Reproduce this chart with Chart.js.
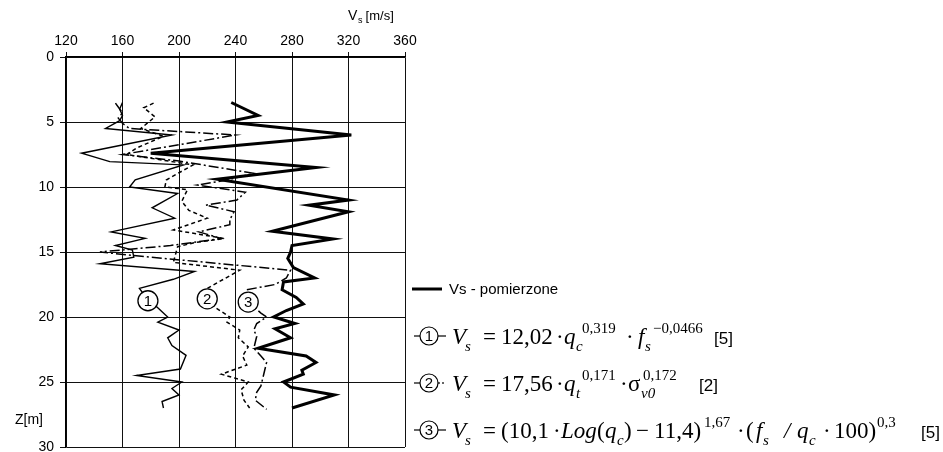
<!DOCTYPE html>
<html>
<head>
<meta charset="utf-8">
<script src="https://cdn.jsdelivr.net/npm/chart.js@4/dist/chart.umd.min.js"></script>
<style>
  body { margin: 0; background: #fff; }
  canvas { display: block; }
</style>
</head>
<body>
<canvas id="vsChart" width="943" height="452"></canvas>
<script>
// depth Z [m] and Vs [m/s] read from the profile
const measuredDepth = [3.5, 4.5, 5.0, 6.0, 7.4, 8.5, 9.4, 11.0, 11.4, 11.9, 13.4, 14.0, 14.5, 15.0, 15.5, 16.2, 17.0, 17.3, 17.9, 18.5, 19.0, 19.5, 20.0, 20.5, 20.9, 21.6, 22.4, 23.0, 23.5, 24.1, 24.4, 25.0, 25.4, 26.0, 27.0];
const measuredVs = [237, 256, 234, 322, 180, 297, 227, 320, 292, 320, 266, 309, 280, 279, 277, 281, 296, 274, 273, 283, 288, 276, 267, 282, 268, 279, 256, 290, 297, 287, 288, 274, 279, 310, 280];

const eq1Depth = [3.5, 4.0, 4.5, 4.9, 5.5, 6.0, 7.4, 8.05, 8.3, 9.45, 10.0, 10.5, 11.6, 12.4, 13.45, 13.95, 14.5, 14.85, 15.4, 15.9, 16.5, 17.1, 17.8, 18.4, 19.2, 19.6, 20.0, 20.4, 21.0, 21.6, 22.2, 22.95, 24.0, 24.5, 25.0, 25.5, 26.0, 26.5, 27.0];
const eq1Vs = [160, 158, 160, 158, 148, 195, 131, 151, 203, 169, 165, 199, 181, 197, 152, 176, 155, 167, 168, 144, 211, 196, 172, 176, 184, 188, 192, 185, 200, 192, 195, 205, 201, 170, 202, 195, 200, 188, 189];

const eq2Depth = [3.55, 3.9, 4.6, 5.5, 6.1, 7.0, 7.5, 8.3, 8.6, 9.46, 10.0, 10.2, 11.1, 11.8, 12.4, 13.3, 13.96, 14.3, 14.6, 15.0, 15.8, 16.4, 17.8, 18.6, 19.3, 20.0, 20.4, 21.0, 21.6, 22.3, 23.0, 23.7, 24.4, 25.0, 25.6, 26.4, 27.0];
const eq2Vs = [182, 175, 183, 173, 189, 170, 163, 210, 205, 191, 190, 206, 202, 207, 220, 196, 232, 210, 199, 198, 196, 243, 220, 220, 226, 236, 234, 243, 242, 249, 245, 248, 230, 249, 244, 246, 250];

const eq3Depth = [3.55, 4.0, 4.3, 4.7, 5.1, 5.5, 6.0, 7.5, 8.0, 8.95, 9.46, 9.85, 10.4, 11.0, 11.4, 11.9, 12.5, 12.9, 13.45, 13.96, 14.5, 15.0, 15.4, 16.4, 17.0, 17.5, 17.9, 18.85, 19.7, 20.0, 20.5, 21.0, 21.5, 22.4, 23.0, 23.5, 24.4, 25.3, 25.8, 26.4, 27.1];
const eq3Vs = [155, 158, 160, 157, 160, 165, 240, 160, 200, 253, 234, 213, 247, 241, 219, 239, 236, 236, 214, 230, 194, 144, 180, 279, 276, 268, 248, 249, 258, 262, 255, 253, 255, 253, 258, 262, 260, 258, 255, 254, 262];

const markerText = ["1", "2", "3"];
const markerVs = [178, 220, 249];
const markerDepth = [18.75, 18.6, 18.85];

const vsTicks = [120, 160, 200, 240, 280, 320, 360];
const depthTicks = [0, 5, 10, 15, 20, 25, 30];

const SANS = "'Liberation Sans', Arial, sans-serif";
const SERIF = "'Liberation Serif', 'Times New Roman', serif";

function toPoints(depth, vs) {
  return depth.map((z, i) => ({ x: vs[i], y: z }));
}

// circled curve numbers on the plot
const markerPlugin = {
  id: "markers",
  afterDatasetsDraw(chart) {
    const { ctx, scales } = chart;
    ctx.save();
    markerText.forEach((t, i) => {
      const x = scales.x.getPixelForValue(markerVs[i]);
      const y = scales.y.getPixelForValue(markerDepth[i]);
      ctx.beginPath();
      ctx.arc(x, y, 10, 0, Math.PI * 2);
      ctx.fillStyle = "#fff";
      ctx.fill();
      ctx.lineWidth = 1.3;
      ctx.strokeStyle = "#000";
      ctx.stroke();
      ctx.fillStyle = "#000";
      ctx.font = "15px " + SANS;
      ctx.textAlign = "center";
      ctx.textBaseline = "middle";
      ctx.fillText(t, x, y + 1);
    });
    ctx.restore();
  }
};

// each piece has its own x; k: n normal, i italic, sub / sup small (italic with "i")
function drawRuns(ctx, y, runs) {
  runs.forEach(r => {
    let size = 23, dy = 0, style = "";
    if (r.k.includes("i")) style = "italic ";
    if (r.k.startsWith("sub")) { size = 15; dy = 7; }
    if (r.k === "sup") { size = 15; dy = -11; }
    let family = SERIF;
    if (r.k === "ref") { family = SANS; size = 17; }
    ctx.font = style + size + "px " + family;
    ctx.fillText(r.t, r.x, y + dy);
  });
}

function circledMark(ctx, cx, cy, num, tail) {
  ctx.lineWidth = 1.2;
  ctx.strokeStyle = "#000";
  ctx.beginPath();
  ctx.moveTo(cx - 15, cy);
  ctx.lineTo(cx - 9, cy);
  ctx.stroke();
  ctx.beginPath();
  ctx.arc(cx, cy, 9, 0, Math.PI * 2);
  ctx.stroke();
  ctx.beginPath();
  if (tail === "dots") ctx.setLineDash([2, 2]);
  ctx.moveTo(cx + 9, cy);
  ctx.lineTo(cx + 17, cy);
  ctx.stroke();
  ctx.setLineDash([]);
  ctx.fillStyle = "#000";
  ctx.font = "15px " + SANS;
  ctx.textAlign = "center";
  ctx.textBaseline = "middle";
  ctx.fillText(num, cx, cy + 1);
}

const legendPlugin = {
  id: "textLegend",
  afterDraw(chart) {
    const ctx = chart.ctx;
    ctx.save();
    ctx.fillStyle = "#000";

    // axis titles
    ctx.textAlign = "left";
    ctx.textBaseline = "alphabetic";
    ctx.font = "14px " + SANS;
    ctx.fillText("V", 348, 20);
    ctx.font = "9px " + SANS;
    ctx.fillText("s", 358, 23);
    ctx.font = "13px " + SANS;
    ctx.fillText(" [m/s]", 362, 20);
    ctx.font = "14px " + SANS;
    ctx.fillText("Z[m]", 15, 424);

    // measured line
    ctx.lineWidth = 3;
    ctx.strokeStyle = "#000";
    ctx.beginPath();
    ctx.moveTo(412, 289);
    ctx.lineTo(442, 289);
    ctx.stroke();
    ctx.font = "15px " + SANS;
    ctx.textBaseline = "middle";
    ctx.fillText("Vs - pomierzone", 449, 290);

    circledMark(ctx, 429, 336, "1", "line");
    circledMark(ctx, 429, 383, "2", "dots");
    circledMark(ctx, 429, 430, "3", "line");

    ctx.textAlign = "left";
    ctx.textBaseline = "alphabetic";
    drawRuns(ctx, 344, [
      { t: "V", k: "i", x: 452 }, { t: "s", k: "subi", x: 465 }, { t: "=", k: "n", x: 483 },
      { t: "12,02", k: "n", x: 501 }, { t: "·", k: "n", x: 556 }, { t: "q", k: "i", x: 564 },
      { t: "c", k: "subi", x: 576 }, { t: "0,319", k: "sup", x: 582 }, { t: "·", k: "n", x: 626 },
      { t: "f", k: "i", x: 638 }, { t: "s", k: "subi", x: 645 }, { t: "\u22120,0466", k: "sup", x: 653 },
      { t: "[5]", k: "ref", x: 714 }
    ]);
    drawRuns(ctx, 391, [
      { t: "V", k: "i", x: 452 }, { t: "s", k: "subi", x: 465 }, { t: "=", k: "n", x: 483 },
      { t: "17,56", k: "n", x: 501 }, { t: "·", k: "n", x: 556 }, { t: "q", k: "i", x: 564 },
      { t: "t", k: "subi", x: 576 }, { t: "0,171", k: "sup", x: 582 }, { t: "·", k: "n", x: 620 },
      { t: "σ", k: "n", x: 628 }, { t: "v0", k: "subi", x: 641 }, { t: "0,172", k: "sup", x: 643 },
      { t: "[2]", k: "ref", x: 699 }
    ]);
    drawRuns(ctx, 438, [
      { t: "V", k: "i", x: 452 }, { t: "s", k: "subi", x: 465 }, { t: "=", k: "n", x: 483 },
      { t: "(10,1", k: "n", x: 501 }, { t: "·", k: "n", x: 553 }, { t: "Log", k: "i", x: 561 },
      { t: "(", k: "n", x: 597 }, { t: "q", k: "i", x: 605 }, { t: "c", k: "subi", x: 617 },
      { t: ")", k: "n", x: 624 }, { t: "\u2212", k: "n", x: 636 }, { t: "11,4)", k: "n", x: 654 },
      { t: "1,67", k: "sup", x: 704 },
      { t: "·", k: "n", x: 737 }, { t: "(", k: "n", x: 746 }, { t: "f", k: "i", x: 756 },
      { t: "s", k: "subi", x: 763 }, { t: "/", k: "i", x: 784 }, { t: "q", k: "i", x: 797 },
      { t: "c", k: "subi", x: 809 }, { t: "·", k: "n", x: 823 }, { t: "100)", k: "n", x: 834 },
      { t: "0,3", k: "sup", x: 877 }, { t: "[5]", k: "ref", x: 921 }
    ]);
    ctx.restore();
  }
};

const canvas = document.getElementById("vsChart");

new Chart(canvas, {
  type: "scatter",
  data: {
    datasets: [
      {
        label: "Vs - pomierzone",
        data: toPoints(measuredDepth, measuredVs),
        showLine: true,
        borderColor: "#000",
        borderWidth: 3,
        pointRadius: 0,
        order: 0
      },
      {
        label: "1",
        data: toPoints(eq1Depth, eq1Vs),
        showLine: true,
        borderColor: "#000",
        borderWidth: 1.4,
        pointRadius: 0
      },
      {
        label: "2",
        data: toPoints(eq2Depth, eq2Vs),
        showLine: true,
        borderColor: "#000",
        borderWidth: 1.5,
        borderDash: [4, 3],
        pointRadius: 0
      },
      {
        label: "3",
        data: toPoints(eq3Depth, eq3Vs),
        showLine: true,
        borderColor: "#000",
        borderWidth: 1.5,
        borderDash: [10, 3, 2, 3],
        pointRadius: 0
      }
    ]
  },
  options: {
    responsive: false,
    animation: false,
    layout: { padding: { left: 0, top: 0, right: 538, bottom: 5 } },
    plugins: {
      legend: { display: false },
      tooltip: { enabled: false }
    },
    scales: {
      x: {
        type: "linear",
        position: "top",
        min: vsTicks[0],
        max: vsTicks[vsTicks.length - 1],
        afterBuildTicks: s => { s.ticks = vsTicks.map(v => ({ value: v })); },
        afterFit: s => { s.height = 57; s.paddingLeft = 0; s.paddingRight = 0; },
        ticks: { color: "#000", font: { family: SANS, size: 14 }, padding: 2, maxRotation: 0 },
        grid: { color: "#111", lineWidth: 1, tickLength: 5 },
        border: { color: "#000", width: 1.5 }
      },
      y: {
        type: "linear",
        reverse: true,
        min: depthTicks[0],
        max: depthTicks[depthTicks.length - 1],
        afterBuildTicks: s => { s.ticks = depthTicks.map(v => ({ value: v })); },
        afterFit: s => { s.width = 66; s.paddingTop = 0; s.paddingBottom = 0; },
        ticks: { color: "#000", font: { family: SANS, size: 14 }, padding: 6 },
        grid: { color: "#111", lineWidth: 1, tickLength: 6 },
        border: { color: "#000", width: 1.5 }
      }
    }
  },
  plugins: [markerPlugin, legendPlugin]
});
</script>
</body>
</html>
